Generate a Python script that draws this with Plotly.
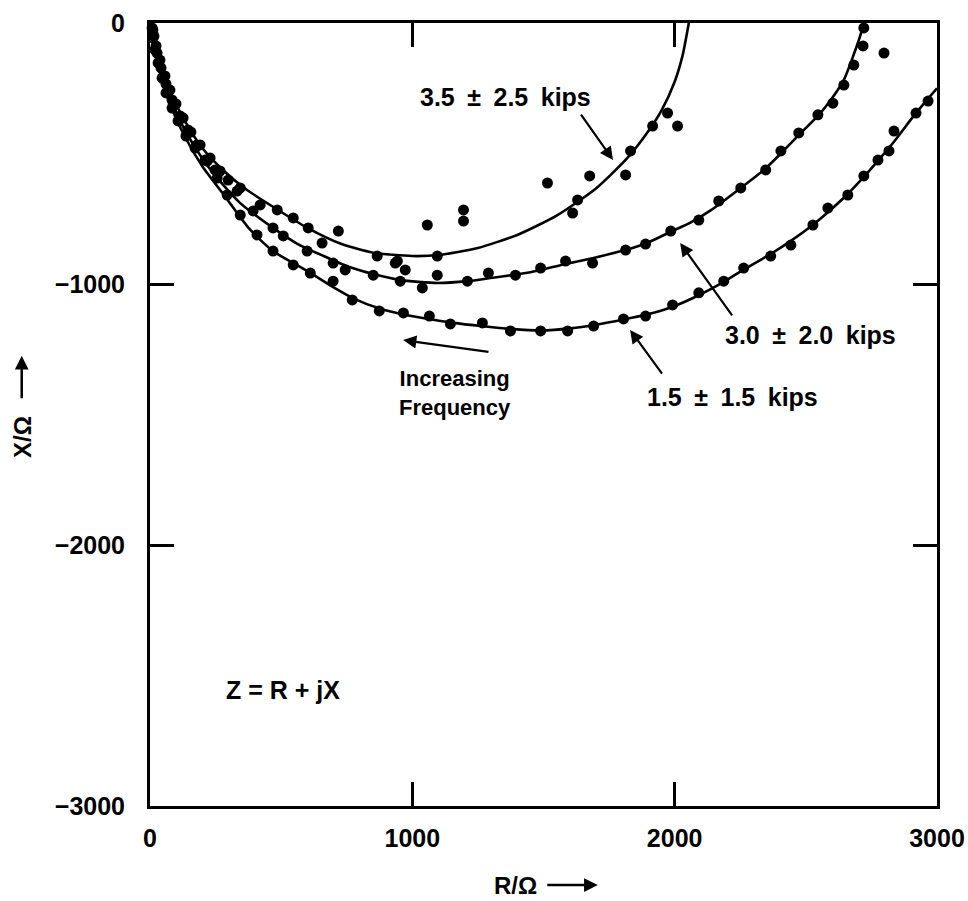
import plotly.graph_objects as go

# ---------------- data ----------------
# fitted arcs
fit35_R = [0, 15, 40, 80, 130, 200, 280, 370, 470, 600, 725, 850, 1000, 1100, 1250, 1400, 1550, 1700, 1820, 1900, 1950, 2000, 2030, 2054]
fit35_X = [0, -75, -165, -270, -370, -480, -565, -640, -705, -785, -845, -880, -893, -889, -862, -812, -738, -634, -517, -414, -335, -225, -125, 0]

fit30_R = [0, 15, 40, 80, 130, 200, 270, 344, 469, 560, 660, 760, 851, 954, 1095, 1210, 1298, 1450, 1576, 1691, 1805, 1882, 1985, 2060, 2137, 2252, 2340, 2405, 2481, 2546, 2595, 2645, 2683, 2710, 2718]
fit30_X = [0, -85, -185, -295, -405, -520, -610, -690, -785, -845, -892, -935, -962, -985, -996, -989, -977, -955, -925, -900, -872, -848, -800, -765, -718, -632, -563, -500, -421, -356, -295, -218, -120, -40, 0]

fit15_R = [0, 15, 40, 80, 130, 200, 279, 380, 469, 599, 687, 775, 878, 981, 1069, 1156, 1271, 1374, 1490, 1603, 1700, 1805, 1897, 1985, 2088, 2187, 2263, 2366, 2443, 2531, 2584, 2660, 2721, 2786, 2836, 2912, 2970, 3000]
fit15_X = [0, -95, -200, -320, -430, -550, -655, -790, -874, -950, -1005, -1055, -1095, -1120, -1135, -1149, -1162, -1172, -1178, -1170, -1156, -1136, -1116, -1090, -1045, -992, -945, -885, -835, -770, -725, -655, -590, -515, -455, -355, -285, -250]

# measured points
pts35_R = [8, 11, 19, 31, 46, 61, 84, 107, 137, 172, 210, 248, 298, 344, 420, 485, 546, 603, 656, 718, 866, 943, 1057, 1095, 1195, 1195, 1515, 1611, 1630, 1676, 1813, 1832, 1916, 1973, 2011]
pts35_X = [-19, -57, -103, -153, -211, -268, -326, -375, -433, -479, -525, -563, -602, -632, -697, -716, -747, -785, -843, -797, -893, -912, -774, -893, -716, -759, -613, -728, -678, -586, -582, -490, -395, -345, -395]

pts30_R = [11, 23, 38, 57, 76, 99, 126, 156, 191, 229, 267, 332, 393, 469, 508, 599, 698, 744, 851, 935, 973, 954, 1038, 1095, 1210, 1290, 1393, 1489, 1584, 1687, 1813, 1889, 1985, 2092, 2168, 2252, 2347, 2405, 2473, 2546, 2603, 2645, 2683, 2718, 2721, 2683, 2798]
pts30_X = [-27, -88, -142, -203, -257, -310, -364, -418, -467, -517, -567, -644, -720, -785, -816, -874, -920, -946, -966, -920, -946, -989, -1015, -966, -989, -958, -966, -939, -912, -920, -870, -847, -797, -755, -682, -632, -563, -490, -421, -352, -307, -238, -161, -88, -19, 27, -115]

pts15_R = [15, 27, 42, 61, 84, 115, 145, 179, 218, 256, 294, 344, 408, 469, 546, 611, 698, 771, 874, 966, 1065, 1145, 1267, 1374, 1489, 1592, 1691, 1805, 1889, 1992, 2092, 2187, 2263, 2366, 2443, 2527, 2584, 2660, 2721, 2775, 2817, 2836, 2920, 2966]
pts15_X = [-50, -115, -172, -234, -295, -356, -410, -467, -529, -594, -659, -736, -812, -874, -927, -958, -989, -1061, -1103, -1111, -1123, -1153, -1149, -1180, -1180, -1180, -1161, -1134, -1123, -1080, -1034, -989, -939, -893, -851, -774, -709, -659, -586, -525, -490, -414, -345, -299]

x_ticks = [0, 1000, 2000, 3000]
x_ticktext = ["0", "1000", "2000", "3000"]
y_ticks = [0, -1000, -2000, -3000]
y_ticktext = ["0", "\u22121000", "\u22122000", "\u22123000"]

FONT = "Liberation Sans, Arial, Helvetica, sans-serif"

fig = go.Figure()

for R, X in [(fit35_R, fit35_X), (fit30_R, fit30_X), (fit15_R, fit15_X)]:
    fig.add_trace(go.Scatter(x=R, y=X, mode="lines", line=dict(color="black", width=2.6, shape="spline", smoothing=0.6),
                             showlegend=False, hoverinfo="skip"))

for R, X in [(pts35_R, pts35_X), (pts30_R, pts30_X), (pts15_R, pts15_X)]:
    fig.add_trace(go.Scatter(x=R, y=X, mode="markers", marker=dict(color="black", size=11, line=dict(width=0)),
                             cliponaxis=False, showlegend=False))

axis_common = dict(showline=True, linewidth=3, linecolor="black", mirror="ticks",
                   ticks="inside", ticklen=24, tickwidth=2.5, tickcolor="black",
                   showgrid=False, zeroline=False, automargin=False,
                   tickfont=dict(family=FONT, size=25, color="black", weight="bold"))

fig.update_xaxes(range=[0, 3000], tickvals=x_ticks, ticktext=x_ticktext, ticklabelstandoff=8, **axis_common)
fig.update_yaxes(range=[-3000, 0], tickvals=y_ticks, ticktext=y_ticktext, ticklabelstandoff=17, **axis_common)

ann_font = dict(family=FONT, size=25, color="black", weight="bold")
small_font = dict(family=FONT, size=22, color="black", weight="bold")
sp = "\u2002"
annotations = [
    dict(x=1357, y=-284, text=f"3.5{sp}±{sp}2.5{sp}kips", showarrow=False, font=ann_font),
    dict(x=2516, y=-1195, text=f"3.0{sp}±{sp}2.0{sp}kips", showarrow=False, font=ann_font),
    dict(x=2219, y=-1433, text=f"1.5{sp}±{sp}1.5{sp}kips", showarrow=False, font=ann_font),
    dict(x=1163, y=-1418, text="Increasing<br>Frequency", showarrow=False, font=small_font),
    dict(x=507, y=-2556, text="Z = R + jX", showarrow=False, font=ann_font),
]
arrows = [
    (1765, -525, 1639, -345),
    (2021, -843, 2223, -1126),
    (1830, -1176, 1956, -1349),
    (965, -1215, 1296, -1261),
]
for hx, hy, tx, ty in arrows:
    annotations.append(dict(x=hx, y=hy, ax=tx, ay=ty, axref="x", ayref="y", xref="x", yref="y",
                            text="", showarrow=True, arrowhead=2, arrowsize=1.2, arrowwidth=2.2,
                            arrowcolor="black"))

# axis titles with arrows
annotations += [
    dict(xref="paper", yref="paper", x=0.464, y=-0.101, xanchor="center", yanchor="middle",
         text="R/\u03a9", showarrow=False,
         font=dict(family=FONT, size=24, color="black", weight="bold")),
    dict(xref="paper", yref="paper", x=0.569, y=-0.101, ax=-52, ay=0, text="", showarrow=True,
         arrowhead=2, arrowsize=1.1, arrowwidth=2.5, arrowcolor="black"),
    dict(xref="paper", yref="paper", x=-0.163, y=0.471, xanchor="center", yanchor="middle",
         text="X/\u03a9", textangle=-90, showarrow=False,
         font=dict(family=FONT, size=24, color="black", weight="bold")),
    dict(xref="paper", yref="paper", x=-0.163, y=0.575, ax=0, ay=44, text="", showarrow=True,
         arrowhead=2, arrowsize=1.1, arrowwidth=2.5, arrowcolor="black"),
]

fig.update_layout(width=968, height=901, margin=dict(l=150, r=31, t=23, b=95),
                  plot_bgcolor="white", paper_bgcolor="white", annotations=annotations,
                  showlegend=False)

fig.write_html("out.html", config={"displayModeBar": False},
               post_script="document.body.style.margin='0';document.body.style.overflow='hidden';")
